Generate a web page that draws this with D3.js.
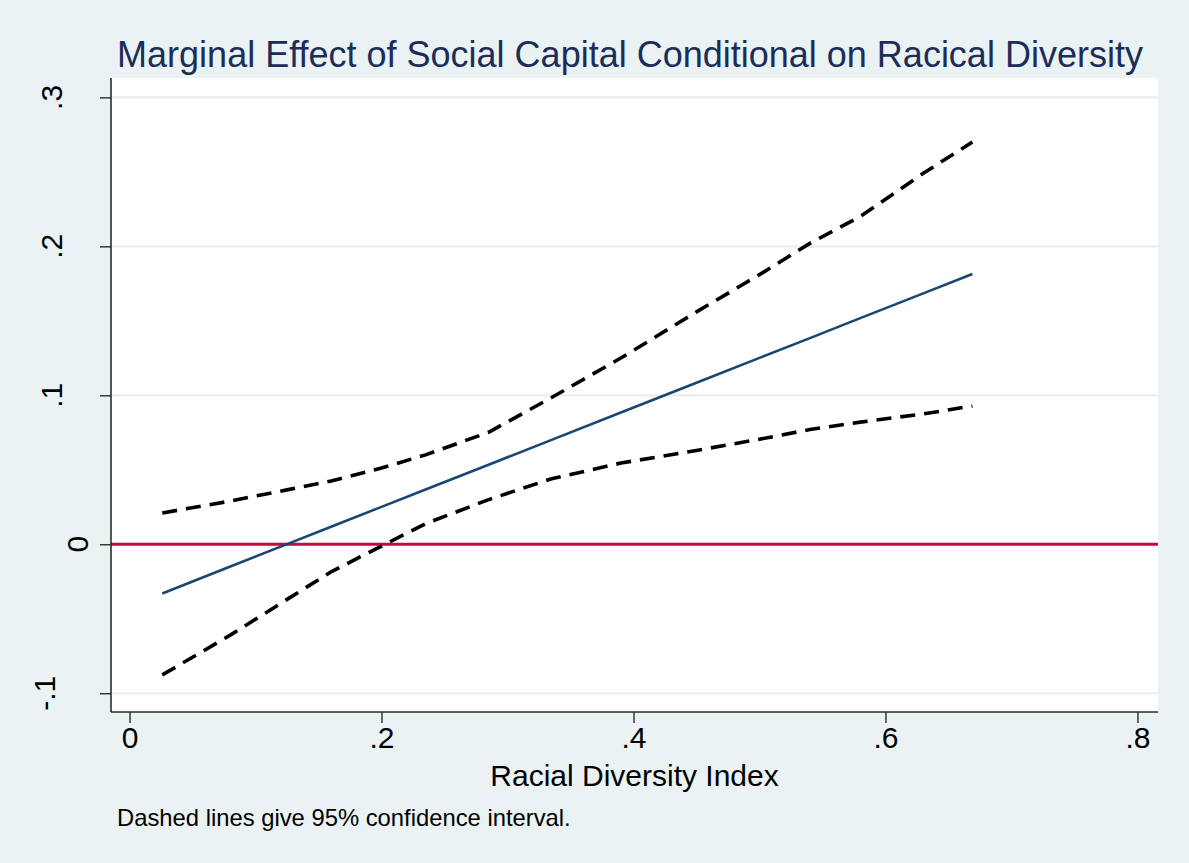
<!DOCTYPE html>
<html>
<head>
<meta charset="utf-8">
<script src="https://cdn.jsdelivr.net/npm/d3@7"></script>
<style>
  html, body { margin: 0; padding: 0; background: #eaf2f3; }
  svg { display: block; }
  text { font-family: "Liberation Sans", Arial, Helvetica, sans-serif; }
</style>
</head>
<body>
<svg id="chart" width="1189" height="863"></svg>
<script>
// Racial diversity index values at which the marginal effect is evaluated
const diversity = [0.026, 0.08, 0.125, 0.16, 0.2, 0.235, 0.285, 0.335, 0.39, 0.45, 0.5, 0.54, 0.58, 0.63, 0.669];
// Marginal effect of social capital
const effect = [-0.033, -0.0149, 0.0001, 0.0118, 0.0251, 0.0368, 0.0534, 0.0701, 0.0884, 0.1084, 0.1251, 0.1384, 0.1518, 0.1684, 0.1814];
// Upper and lower bounds of the 95% confidence interval
const upper = [0.021, 0.029, 0.0365, 0.0424, 0.0512, 0.060, 0.0752, 0.0985, 0.125, 0.156, 0.181, 0.202, 0.220, 0.249, 0.270];
const lower = [-0.0877, -0.0610, -0.0370, -0.0185, -0.0012, 0.0138, 0.030, 0.0440, 0.0545, 0.0630, 0.0705, 0.0770, 0.0820, 0.0875, 0.0928];

const xTicks = [0, 0.2, 0.4, 0.6, 0.8];
const yTicks = [-0.1, 0, 0.1, 0.2, 0.3];
const referenceLine = 0;

const titleText = "Marginal Effect of Social Capital Conditional on Racical Diversity";
const xTitle = "Racial Diversity Index";
const noteText = "Dashed lines give 95% confidence interval.";

// Stata-style labels: drop the leading zero (".2", "-.1")
const fmt = v => {
  if (Math.abs(v) < 1e-9) return "0";
  const s = Math.abs(v).toFixed(1).replace(/^0\./, ".");
  return (v < 0 ? "-" : "") + s;
};

const svg = d3.select("#chart");
const plot = { left: 111, right: 1158, top: 78, bottom: 712 };

const x = d3.scaleLinear().domain([-0.0147, 0.8163]).range([plot.left, plot.right]);
const y = d3.scaleLinear().domain([-0.1126, 0.313]).range([plot.bottom, plot.top]);

// outer background and white plot region
svg.append("rect").attr("width", 1189).attr("height", 863).attr("fill", "#eaf2f3");
svg.append("rect")
  .attr("x", plot.left).attr("y", plot.top)
  .attr("width", plot.right - plot.left).attr("height", plot.bottom - plot.top)
  .attr("fill", "#ffffff");

// horizontal gridlines
svg.append("g").selectAll("line").data(yTicks).join("line")
  .attr("x1", plot.left).attr("x2", plot.right)
  .attr("y1", d => y(d)).attr("y2", d => y(d))
  .attr("stroke", "#e7eff1").attr("stroke-width", 2.2);

// reference line at zero
svg.append("line")
  .attr("x1", plot.left).attr("x2", plot.right)
  .attr("y1", y(referenceLine)).attr("y2", y(referenceLine))
  .attr("stroke", "#c40c3c").attr("stroke-width", 3);

const pts = arr => diversity.map((d, i) => [d, arr[i]]);
const line = d3.line().x(d => x(d[0])).y(d => y(d[1]));

// confidence bounds
[upper, lower].forEach(arr => {
  svg.append("path").datum(pts(arr))
    .attr("d", line)
    .attr("fill", "none")
    .attr("stroke", "#000000")
    .attr("stroke-width", 3.6)
    .attr("stroke-dasharray", "15,9");
});

// marginal effect
svg.append("path").datum(pts(effect))
  .attr("d", line)
  .attr("fill", "none")
  .attr("stroke", "#1a476f")
  .attr("stroke-width", 2.6);

// x axis
const xAxis = d3.axisBottom(x).tickValues(xTicks).tickSize(11).tickPadding(4).tickFormat(fmt);
const gx = svg.append("g").attr("transform", `translate(0,${plot.bottom})`).call(xAxis);
gx.select(".domain").attr("d", `M${plot.left},0H${plot.right}`).attr("stroke", "#2b2b2b").attr("stroke-width", 1.6);
gx.selectAll(".tick line").attr("stroke", "#2b2b2b").attr("stroke-width", 1.4);
gx.selectAll(".tick text").attr("font-size", 30).attr("fill", "#000").attr("font-family", '"Liberation Sans", Arial, sans-serif');

// y axis with labels read bottom-to-top
const yAxis = d3.axisLeft(y).tickValues(yTicks).tickSize(11).tickFormat("");
const gy = svg.append("g").attr("transform", `translate(${plot.left},0)`).call(yAxis);
gy.select(".domain").attr("d", `M0,${plot.top}V${plot.bottom}`).attr("stroke", "#2b2b2b").attr("stroke-width", 1.6);
gy.selectAll(".tick line").attr("stroke", "#2b2b2b").attr("stroke-width", 1.4);

const labelShift = { "0": 26, "-.1": -7 };
svg.append("g").selectAll("text").data(yTicks).join("text")
  .attr("transform", d => `translate(${62 + (labelShift[fmt(d)] || 0)},${y(d)}) rotate(-90)`)
  .attr("text-anchor", "middle")
  .attr("font-size", 30)
  .attr("fill", "#000")
  .text(fmt);

// titles
svg.append("text")
  .attr("x", 630).attr("y", 67)
  .attr("text-anchor", "middle")
  .attr("font-size", 36)
  .attr("fill", "#1c2d57")
  .text(titleText);

svg.append("text")
  .attr("x", (plot.left + plot.right) / 2).attr("y", 786)
  .attr("text-anchor", "middle")
  .attr("font-size", 30)
  .attr("fill", "#000")
  .text(xTitle);

svg.append("text")
  .attr("x", 117).attr("y", 826)
  .attr("font-size", 23.8)
  .attr("fill", "#000")
  .text(noteText);
</script>
</body>
</html>
